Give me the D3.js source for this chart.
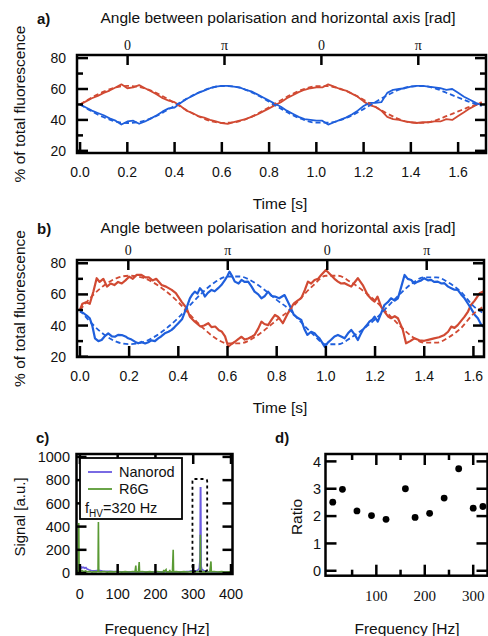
<!DOCTYPE html>
<html>
<head>
<meta charset="utf-8">
<script src="https://cdn.jsdelivr.net/npm/d3@7"></script>
<style>
body { margin: 0; background: #fff; }
text { font-family: "Liberation Sans", Arial, sans-serif; fill: #111; }
</style>
</head>
<body>
<script>
// ---- panel a: % of fluorescence, sampled every dtA seconds ----
var dtA = 0.025, dtFit = 0.05;
var redA = [50,52,54,55.5,57.5,59,61,63,60.5,61,62.5,60.5,58.5,56.5,54,52.5,51.5,49,46,44.5,42.5,41.5,40,39,38,37.5,38.5,39.5,40.5,42,43.5,45.5,47.5,49.5,51.5,54,56,58,59.5,60.5,61,61,63,61.5,60,59,57,55,52,49.5,48.5,46,42,40.5,40,39,38.5,38,38.5,38.5,39,39,40.5,40,42.5,45,47.5,49.5,51.5];
var blueA = [50,48,46,44.5,43,41,39.5,37,39,39.5,37.5,39,41,43,45.5,47.5,48,51,53.5,55.5,57.5,59,60.5,61.5,62,62,61.5,61,59.5,58.5,56.5,54.5,52.5,50.5,48.5,46,44,42,40.5,40,39.5,39.5,37,38.5,40,41.5,43.5,46,49,51,51,51.5,57.5,59.5,60,60.5,61.5,62,62,61.5,61,60.5,59.5,60,57.5,55,53,51,49.5];
var redFitA = [50,54.5,58.3,61,62,61.3,59,55.3,50.9,46.4,42.4,39.4,38.1,38.4,40.4,43.9,48.2,52.7,56.9,60.1,61.8,61.8,60.2,57.1,53,48.4,44.1,40.5,38.4,38.1,39.5,42.4,45.5,48.5,51];
var blueFitA = [50,45.5,41.7,39,38,38.7,41,44.7,49.1,53.6,57.6,60.6,61.9,61.6,59.6,56.1,51.8,47.3,43.1,39.9,38.2,38.2,39.8,42.9,47,51.6,55.9,59.5,61.6,61.9,60.5,57.6,54.5,51.5,49];

// ---- panel b: [time s, %] ----
var redB = [[0,50],[0.01,54],[0.025,55],[0.04,54],[0.055,62],[0.068,70.4],[0.08,68],[0.095,70],[0.11,65],[0.125,67],[0.14,66],[0.155,68],[0.17,67],[0.185,69],[0.2,71.4],[0.215,70],[0.23,72.5],[0.25,72.5],[0.265,71],[0.28,71],[0.295,69],[0.31,70],[0.332,66],[0.35,65],[0.373,62.9],[0.39,60.8],[0.413,55.4],[0.434,51.1],[0.447,45.7],[0.467,42.5],[0.49,39.4],[0.505,40],[0.522,41.5],[0.535,39],[0.55,39.4],[0.565,37],[0.576,36.2],[0.59,33],[0.603,26.4],[0.615,28],[0.63,29.6],[0.645,31.5],[0.657,32.8],[0.67,31],[0.684,31.7],[0.7,33],[0.71,33.9],[0.725,38],[0.738,42.5],[0.75,41],[0.765,40.3],[0.78,44],[0.793,46.8],[0.805,45.7],[0.825,41.5],[0.846,48],[0.87,54.3],[0.885,56],[0.9,57.6],[0.915,63],[0.927,68.2],[0.94,67],[0.954,69.3],[0.968,70],[0.981,72.5],[1.0,75.7],[1.02,72.5],[1.035,70],[1.049,68.2],[1.062,67],[1.076,67.2],[1.09,66],[1.103,65],[1.118,68],[1.13,70.4],[1.15,66],[1.17,59.6],[1.185,57],[1.198,55.4],[1.21,58.6],[1.225,52],[1.238,48.9],[1.252,46],[1.265,44.7],[1.28,46],[1.293,44.7],[1.313,37.2],[1.326,28.6],[1.343,30],[1.36,31.8],[1.38,30.5],[1.4,30.2],[1.42,31],[1.44,31.8],[1.46,32.5],[1.482,34],[1.497,36],[1.51,39.3],[1.523,38.5],[1.536,40.3],[1.55,43],[1.564,45.7],[1.578,49],[1.59,53.2],[1.605,56],[1.625,60.7],[1.642,62]];
var blueB = [[0,49],[0.015,47.9],[0.03,46],[0.04,44.7],[0.05,40],[0.061,31.8],[0.075,30],[0.088,30.7],[0.1,33],[0.115,35],[0.13,33],[0.142,32.8],[0.155,34],[0.17,33.9],[0.185,33],[0.196,31.8],[0.21,31],[0.225,29.5],[0.237,28.6],[0.25,29.5],[0.265,28.5],[0.278,29.3],[0.29,30.5],[0.305,30],[0.318,31.8],[0.33,33],[0.345,35],[0.36,36],[0.373,37.2],[0.385,39],[0.4,41.5],[0.415,44],[0.427,48.9],[0.437,53],[0.447,57.5],[0.457,60],[0.467,61.8],[0.478,60.5],[0.488,64],[0.498,62],[0.508,58.6],[0.52,61],[0.535,62.9],[0.548,62],[0.562,64],[0.575,66],[0.59,69.3],[0.6,72],[0.608,74.6],[0.618,72],[0.63,68.2],[0.645,67],[0.657,69.3],[0.67,68],[0.684,68.2],[0.698,65],[0.71,61.8],[0.725,60],[0.738,57.5],[0.752,59],[0.765,61.8],[0.78,59],[0.793,58.6],[0.81,57.5],[0.832,59.6],[0.852,53.2],[0.87,46.8],[0.885,45],[0.9,43.6],[0.912,38],[0.925,34],[0.94,36],[0.954,35],[0.965,33],[0.974,31.8],[0.985,29],[0.995,26.4],[1.008,29],[1.02,30.7],[1.035,33],[1.049,34],[1.062,33],[1.076,31.8],[1.09,35],[1.103,37.2],[1.118,34],[1.13,30.7],[1.14,34],[1.15,37.2],[1.165,40],[1.177,42.5],[1.19,44],[1.198,45.7],[1.211,42.5],[1.225,48],[1.238,53.2],[1.252,55],[1.265,57.5],[1.28,56],[1.293,57.5],[1.305,64],[1.32,72.5],[1.333,70],[1.347,69.3],[1.36,67],[1.374,68.2],[1.388,69],[1.4,70.4],[1.415,69],[1.428,69.3],[1.44,68],[1.455,68.2],[1.47,67],[1.482,67.2],[1.497,65],[1.51,64],[1.523,63],[1.536,62.9],[1.55,60],[1.564,57.5],[1.578,54],[1.59,51],[1.605,47],[1.618,44.7],[1.63,41],[1.642,39]];
var redFitB = [50,59,66,70.5,72,71,67.5,62,55,46.5,38.5,32,28.5,28.5,31.5,37,43.5,49.5,58,66,72,72,68,62.5,56,48,40,33,29,29,32.5,38.5,47.5,53];
var blueFitB = [50,41,34,29.5,28,29,32.5,38,45,53.5,61.5,68,71.5,71.5,68.5,63,56.5,50.5,42,34,28,28,32,37.5,44,52,60,67,71,71,67.5,61.5,52.5,47];

// angle axis (in units of pi) and its labels
var angleTicks = [0, 1, 2, 3];
var angleLabels = ["0", "\u03c0", "0", "\u03c0"];
var timeTicks = [0, 0.2, 0.4, 0.6, 0.8, 1.0, 1.2, 1.4, 1.6];

// ---- panel c: spectrum [Hz, signal] ----
var nanorod = [[-9,18],[-3,22],[0,30],[3,40],[5,52],[8,45],[10,50],[13,42],[16,48],[19,35],[24,28],[30,22],[40,20],[50,24],[60,18],[75,16],[90,14],[110,12],[130,10],[160,11],[190,9],[220,10],[250,10],[275,12],[290,15],[300,22],[308,18],[313,28],[316,40],[318,120],[319,735],[320,735],[321,60],[323,30],[328,22],[335,14],[350,10],[380,9],[404,9]];
var r6g = [[-9,8],[-4,10],[-3,430],[-2,12],[2,15],[6,20],[10,12],[15,18],[20,10],[26,14],[32,8],[38,12],[44,10],[48,14],[49,440],[50,12],[56,10],[64,14],[72,8],[80,12],[90,10],[100,14],[110,8],[120,12],[130,9],[140,13],[146,10],[148,65],[149,10],[155,12],[157,95],[158,10],[165,13],[175,8],[185,12],[195,9],[205,13],[215,9],[221,12],[222,28],[223,10],[228,30],[229,10],[237,12],[238,28],[239,10],[245,12],[247,200],[248,10],[255,12],[265,8],[275,12],[285,9],[295,13],[305,10],[312,14],[318,12],[319,330],[320,10],[327,12],[335,9],[344,12],[347,100],[348,10],[355,13],[365,9],[375,12],[385,8],[395,11],[404,9]];
var boxHz = [298, 337], boxSignal = [15, 810];

// ---- panel d: ratio vs frequency ----
var freqD = [10, 30, 60, 90, 120, 160, 180, 210, 240, 270, 300, 320];
var ratioD = [2.51, 2.98, 2.19, 2.02, 1.88, 3.0, 1.95, 2.1, 2.66, 3.73, 2.29, 2.35];

var width = 488, height = 636;
var red = "#d14a33", blue = "#1f5fdc", purple = "#6a5ae0", green = "#5a9a34";

var svg = d3.select("body").append("svg")
    .attr("width", width)
    .attr("height", height);

svg.append("rect").attr("width", width).attr("height", height).attr("fill", "#fff");

function frame(x, y) {
  svg.append("rect")
     .attr("x", x.range()[0]).attr("y", y.range()[1])
     .attr("width", x.range()[1] - x.range()[0])
     .attr("height", y.range()[0] - y.range()[1])
     .attr("fill", "none").attr("stroke", "#000").attr("stroke-width", 2.5);
}

// vertical ticks on horizontal edge (dir +1 = downwards)
function ticksX(scale, vals, y0, len) {
  svg.append("g").selectAll("line").data(vals).enter().append("line")
     .attr("x1", d => scale(d)).attr("x2", d => scale(d))
     .attr("y1", y0).attr("y2", y0 + len)
     .attr("stroke", "#000").attr("stroke-width", 2.5);
}
function ticksY(scale, vals, x0, len) {
  svg.append("g").selectAll("line").data(vals).enter().append("line")
     .attr("y1", d => scale(d)).attr("y2", d => scale(d))
     .attr("x1", x0).attr("x2", x0 + len)
     .attr("stroke", "#000").attr("stroke-width", 2.5);
}
function labelsX(scale, vals, fmt, y0, size, family) {
  svg.append("g").selectAll("text").data(vals).enter().append("text")
     .attr("x", d => scale(d)).attr("y", y0)
     .attr("text-anchor", "middle").attr("font-size", size)
     .style("font-family", family || null)
     .text(fmt);
}
function labelsY(scale, vals, fmt, x0, size) {
  svg.append("g").selectAll("text").data(vals).enter().append("text")
     .attr("x", x0).attr("y", d => scale(d)).attr("dy", "0.36em")
     .attr("text-anchor", "end").attr("font-size", size)
     .text(fmt);
}
function text(x, y, s, size, opts) {
  var t = svg.append("text").attr("x", x).attr("y", y).attr("font-size", size).text(s);
  if (opts && opts.anchor) t.attr("text-anchor", opts.anchor);
  if (opts && opts.bold) t.attr("font-weight", "bold");
  if (opts && opts.rotate) t.attr("transform", "rotate(-90," + x + "," + y + ")");
  return t;
}

// ================= time traces (a, b) =================
function tracePanel(o) {
  var x = d3.scaleLinear().domain(o.xDom).range(o.xRange);
  var y = d3.scaleLinear().domain(o.yDom).range(o.yRange);
  var ang = d3.scaleLinear().domain([0, 3]).range(o.angRange);
  var line = d3.line().x(d => x(d[0])).y(d => y(d[1]));

  var clipId = "clip" + o.name;
  svg.append("clipPath").attr("id", clipId).append("rect")
     .attr("x", o.xRange[0]).attr("y", o.yRange[1])
     .attr("width", o.xRange[1] - o.xRange[0]).attr("height", o.yRange[0] - o.yRange[1]);
  var g = svg.append("g").attr("clip-path", "url(#" + clipId + ")");

  g.append("path").datum(o.red).attr("d", line)
   .attr("fill", "none").attr("stroke", red).attr("stroke-width", o.lw).attr("stroke-linejoin", "round");
  g.append("path").datum(o.blue).attr("d", line)
   .attr("fill", "none").attr("stroke", blue).attr("stroke-width", o.lw).attr("stroke-linejoin", "round");
  var fitLine = d3.line().curve(d3.curveMonotoneX).x(d => x(d[0])).y(d => y(d[1]));
  g.append("path").datum(o.redFit.map((v, i) => [i * dtFit, v])).attr("d", fitLine)
   .attr("fill", "none").attr("stroke", red).attr("stroke-width", 1.8).attr("stroke-dasharray", "5,3");
  g.append("path").datum(o.blueFit.map((v, i) => [i * dtFit, v])).attr("d", fitLine)
   .attr("fill", "none").attr("stroke", blue).attr("stroke-width", 1.8).attr("stroke-dasharray", "5,3");

  frame(x, y);
  var top = o.yRange[1], bot = o.yRange[0], left = o.xRange[0], right = o.xRange[1];
  ticksY(y, [20, 40, 60, 80], left, 11);
  ticksY(y, [30, 50, 70], left, 6);
  ticksY(y, [20, 40, 60, 80], right, -11);
  ticksY(y, [30, 50, 70], right, -6);
  ticksX(x, timeTicks, bot, -11);
  ticksX(ang, angleTicks, top, 10);

  labelsY(y, [20, 40, 60, 80], d => d, 66, 14);
  labelsX(x, timeTicks, d3.format(".1f"), bot + 24, 14);
  labelsX(ang, angleTicks, (d, i) => angleLabels[i], top - 5, 14, '"Liberation Serif", "Times New Roman", serif');

  text(37, o.labelY, o.name + ")", 15, { bold: true });
  text(278, o.labelY - 1, "Angle between polarisation and horizontal axis [rad]", 15.5, { anchor: "middle" });
  text(280, bot + 56, "Time [s]", 15.5, { anchor: "middle" });
  text(25, (top + bot) / 2 + 0, "% of total fluorescence", 15.5, { anchor: "middle", rotate: true });
}

tracePanel({
  name: "a", labelY: 24,
  xDom: [-0.013, 1.718], xRange: [77, 486],
  yDom: [18.6, 82], yRange: [153, 55],
  angRange: [127.6, 418.3],
  red: redA.map((v, i) => [i * dtA, v]),
  blue: blueA.map((v, i) => [i * dtA, v]),
  redFit: redFitA, blueFit: blueFitA, lw: 1.8
});

tracePanel({
  name: "b", labelY: 234,
  xDom: [-0.012, 1.643], xRange: [77, 484],
  yDom: [19.8, 82.1], yRange: [357, 260],
  angRange: [128.3, 426.7],
  red: redB, blue: blueB,
  redFit: redFitB, blueFit: blueFitB, lw: 2.2
});

// ================= panel c: spectrum =================
var xC = d3.scaleLinear().domain([-9, 404]).range([76.5, 232.5]);
var yC = d3.scaleLinear().domain([-8, 1025]).range([574, 454]);
var lineC = d3.line().x(d => xC(d[0])).y(d => yC(d[1]));

svg.append("path").datum(nanorod).attr("d", lineC)
   .attr("fill", "none").attr("stroke", purple).attr("stroke-width", 1.6);
svg.append("path").datum(r6g).attr("d", lineC)
   .attr("fill", "none").attr("stroke", green).attr("stroke-width", 1.6);

svg.append("rect")
   .attr("x", xC(boxHz[0])).attr("y", yC(boxSignal[1]))
   .attr("width", xC(boxHz[1]) - xC(boxHz[0]))
   .attr("height", yC(boxSignal[0]) - yC(boxSignal[1]))
   .attr("rx", 2)
   .attr("fill", "none").attr("stroke", "#000").attr("stroke-width", 1.8)
   .attr("stroke-dasharray", "3,3");

var cTicksY = [0, 200, 400, 600, 800, 1000];
var cTicksX = [0, 100, 200, 300, 400];
frame(xC, yC);
ticksY(yC, cTicksY, 76.5, 10);
ticksY(yC, cTicksY, 232.5, -10);
ticksX(xC, cTicksX, 454, 10);
ticksX(xC, cTicksX, 574, -10);
labelsY(yC, cTicksY, d => d, 70, 14.5);
labelsX(xC, cTicksX, d => d, 599, 14.5);

// legend
svg.append("rect").attr("x", 80).attr("y", 458).attr("width", 102).attr("height", 61)
   .attr("fill", "#fff").attr("stroke", "#000").attr("stroke-width", 1.8);
svg.append("line").attr("x1", 88).attr("x2", 112).attr("y1", 472).attr("y2", 472)
   .attr("stroke", purple).attr("stroke-width", 1.8);
svg.append("line").attr("x1", 88).attr("x2", 112).attr("y1", 489).attr("y2", 489)
   .attr("stroke", green).attr("stroke-width", 1.8);
text(119, 477, "Nanorod", 14.5);
text(119, 494, "R6G", 14.5);
var fhv = text(85, 513, "f", 14.5);
fhv.append("tspan").attr("dy", 4).attr("font-size", 10).text("HV");
fhv.append("tspan").attr("dy", -4).text("=320 Hz");

text(36, 443, "c)", 15, { bold: true });
text(25, 517, "Signal [a.u.]", 15, { anchor: "middle", rotate: true });
text(157, 634, "Frequency [Hz]", 15.5, { anchor: "middle" });

// ================= panel d: ratio =================
var xD = d3.scaleLinear().domain([-4.95, 329.5]).range([325.5, 487.5]);
var yD = d3.scaleLinear().domain([-0.18, 4.27]).range([575.7, 454]);

svg.append("g").selectAll("circle").data(freqD).enter().append("circle")
   .attr("cx", d => xD(d))
   .attr("cy", (d, i) => yD(ratioD[i]))
   .attr("r", 3.4)
   .attr("fill", "#000");

frame(xD, yD);
var dTicksY = [0, 1, 2, 3, 4];
ticksY(yD, dTicksY, 325.5, 11);
ticksY(yD, dTicksY, 487.5, -11);
ticksX(xD, [100, 200, 300], 575.7, -11);
ticksX(xD, [50, 150, 250], 575.7, -6);
ticksX(xD, [100, 200, 300], 454, 11);
ticksX(xD, [50, 150, 250], 454, 6);
labelsY(yD, dTicksY, d => d, 321, 14.5);
labelsX(xD, [100, 200, 300], d => d, 601, 15, '"Liberation Serif", "Times New Roman", serif');

text(275, 443, "d)", 15, { bold: true });
text(302, 517, "Ratio", 15.5, { anchor: "middle", rotate: true });
text(407, 634, "Frequency [Hz]", 15.5, { anchor: "middle" });
</script>
</body>
</html>
